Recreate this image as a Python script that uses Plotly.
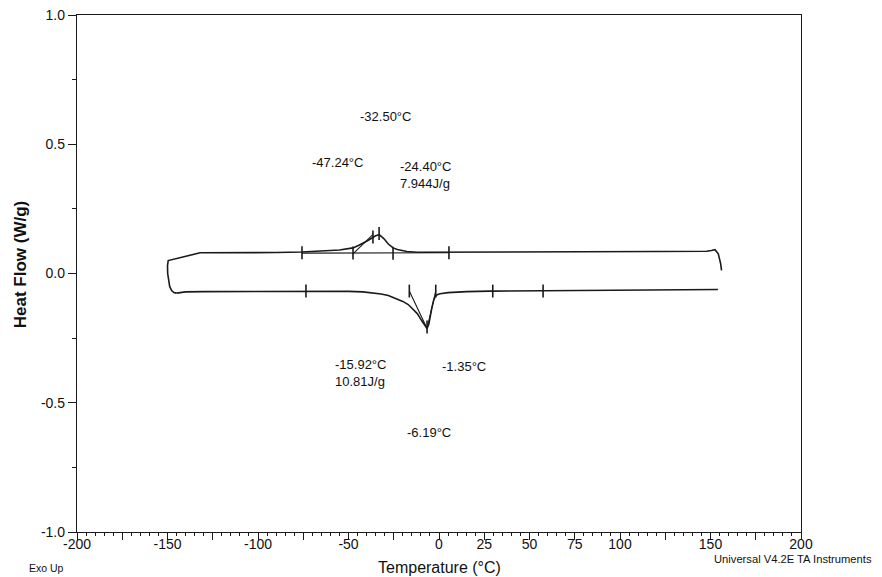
import plotly.graph_objects as go

# ---------------- data ----------------
# cooling run (upper trace, drawn from the right end toward the left, incl. the left turn-around)
cool_T = [156.1, 155.6, 154.3, 152.5, 150.5, 147.9, 120, 80, 40, 5, -5, -12, -17.7, -20, -23,
          -25.4, -28, -30.5, -33, -35, -36.5, -40, -44, -47.5, -55, -65, -75.7, -90, -110,
          -132, -149.6, -150.0, -149.9, -149.6, -148.8, -147.7, -146.5, -145]
cool_HF = [0.012, 0.038, 0.076, 0.092, 0.089, 0.086, 0.085, 0.084, 0.082, 0.081, 0.081, 0.082,
           0.085, 0.088, 0.093, 0.099, 0.114, 0.135, 0.150, 0.146, 0.139, 0.125, 0.110, 0.099,
           0.091, 0.086, 0.083, 0.081, 0.081, 0.080, 0.050, 0.030, 0.000, -0.020, -0.050,
           -0.066, -0.074, -0.076]

# heating run (lower trace)
heat_T = [-145, -140, -130, -100, -73.5, -60, -50, -42, -36, -32, -28, -24, -20, -17, -14.3,
          -12, -9.6, -7.8, -6.6, -5.6, -5, -4, -3, -2.2, -1, 0.6, 5, 10, 15.3, 28, 60, 100, 154.1]
heat_HF = [-0.076, -0.071, -0.070, -0.069, -0.069, -0.068, -0.069, -0.071, -0.075, -0.079,
           -0.085, -0.095, -0.108, -0.120, -0.140, -0.155, -0.182, -0.203, -0.213, -0.195,
           -0.170, -0.135, -0.105, -0.090, -0.082, -0.078, -0.074, -0.072, -0.070, -0.068,
           -0.066, -0.064, -0.062]

# analysis construction lines (baseline / tangents)
upper_base_T = [-75.7, 5.5]
upper_base_HF = [0.079, 0.080]
upper_tan_T = [-47.8, -36.3]
upper_tan_HF = [0.074, 0.152]
lower_tan_T = [-16.4, -6.6, -1.8]
lower_tan_HF = [-0.068, -0.213, -0.068]

# analysis cursor marks: (temperature, centre value)
upper_marks_T = [-75.7, -47.5, -36.5, -33.1, -25.4, 5.5]
upper_marks_HF = [0.080, 0.079, 0.141, 0.155, 0.078, 0.080]
lower_marks_T = [-73.5, -16.4, -1.8, 29.7, 57.5, -6.6]
lower_marks_HF = [-0.068, -0.068, -0.068, -0.068, -0.068, -0.207]

# result labels
ann_text = ["-32.50°C", "-47.24°C", "-24.40°C<br>7.944J/g", "-15.92°C<br>10.81J/g",
            "-1.35°C", "-6.19°C"]
ann_T = [-44.8, -71.3, -22.7, -58.6, 0.6, -18.8]
ann_HF = [0.609, 0.430, 0.380, -0.386, -0.360, -0.616]

# axis ticks
x_tickvals = list(range(-200, 201, 25))
x_labelled = [-200, -150, -100, -50, 0, 25, 50, 75, 100, 150, 200]
y_tickvals = [-1.0, -0.5, 0.0, 0.5, 1.0]
y_ticktext = ["-1.0", "-0.5", "0.0", "0.5", "1.0"]

# ---------------- figure ----------------
LINE = "#1a1a1a"
FONT = "Liberation Sans, Arial, sans-serif"
MARK_HALF = 0.025

fig = go.Figure()

fig.add_trace(go.Scatter(x=cool_T, y=cool_HF, mode="lines",
                         line=dict(color=LINE, width=1.6), hoverinfo="skip"))
fig.add_trace(go.Scatter(x=heat_T, y=heat_HF, mode="lines",
                         line=dict(color=LINE, width=1.6), hoverinfo="skip"))

for tx, ty in [(upper_base_T, upper_base_HF), (upper_tan_T, upper_tan_HF),
               (lower_tan_T, lower_tan_HF)]:
    fig.add_trace(go.Scatter(x=tx, y=ty, mode="lines",
                             line=dict(color=LINE, width=1.1), hoverinfo="skip"))

mx, my = [], []
for t, v in zip(upper_marks_T + lower_marks_T, upper_marks_HF + lower_marks_HF):
    mx += [t, t, None]
    my += [v - MARK_HALF, v + MARK_HALF, None]
fig.add_trace(go.Scatter(x=mx, y=my, mode="lines",
                         line=dict(color=LINE, width=1.6), hoverinfo="skip"))

for txt, t, v in zip(ann_text, ann_T, ann_HF):
    fig.add_annotation(x=t, y=v, text=txt, showarrow=False, xanchor="left",
                       yanchor="middle", align="left",
                       font=dict(family=FONT, size=13, color="#111"))

fig.add_annotation(xref="paper", yref="paper", x=-0.0787, y=0.516, text="<b>Heat Flow (W/g)</b>",
                   textangle=-90, showarrow=False, xanchor="center", yanchor="middle",
                   font=dict(family=FONT, size=17, color="#111"))
fig.add_annotation(xref="paper", yref="paper", x=0.501, y=-0.068, text="Temperature (°C)",
                   showarrow=False, xanchor="center", yanchor="middle",
                   font=dict(family=FONT, size=16, color="#111"))
fig.add_annotation(xref="paper", yref="paper", x=-0.069, y=-0.070, text="Exo Up",
                   showarrow=False, xanchor="left", yanchor="middle",
                   font=dict(family=FONT, size=10.5, color="#111"))
fig.add_annotation(xref="paper", yref="paper", x=0.877, y=-0.052, text="Universal V4.2E TA Instruments",
                   showarrow=False, xanchor="left", yanchor="middle",
                   font=dict(family=FONT, size=11.2, color="#111"))

# page has an 8px body margin: size the figure so the plot box lands where the reference has it
fig.update_layout(
    width=874, height=569,
    margin=dict(l=69, r=81, t=7, b=45, pad=0),
    paper_bgcolor="white", plot_bgcolor="white",
    showlegend=False,
    font=dict(family=FONT, color="#111"),
)
fig.update_xaxes(
    range=[-200, 200], showgrid=False, zeroline=False, automargin=False,
    showline=True, linecolor=LINE, linewidth=1.3, mirror=True,
    ticks="outside", ticklen=7, tickwidth=1.3, tickcolor=LINE,
    tickvals=x_tickvals,
    ticktext=[str(v) if v in x_labelled else "" for v in x_tickvals],
    tickfont=dict(family=FONT, size=14, color="#111"),
    ticklabelstandoff=-8, ticklabeloverflow="allow",
    minor=dict(dtick=5, tick0=0, ticks="outside", ticklen=3, tickcolor=LINE, tickwidth=1),
)
fig.update_yaxes(
    range=[-1, 1], showgrid=False, zeroline=False, automargin=False,
    showline=True, linecolor=LINE, linewidth=1.3, mirror=True,
    ticks="outside", ticklen=8, tickwidth=1.3, tickcolor=LINE,
    tickvals=y_tickvals, ticktext=y_ticktext,
    tickfont=dict(family=FONT, size=14, color="#111"),
    ticklabeloverflow="allow",
    minor=dict(dtick=0.25, tick0=0, ticks="outside", ticklen=4, tickcolor=LINE, tickwidth=1),
)

fig.write_html("out.html")
